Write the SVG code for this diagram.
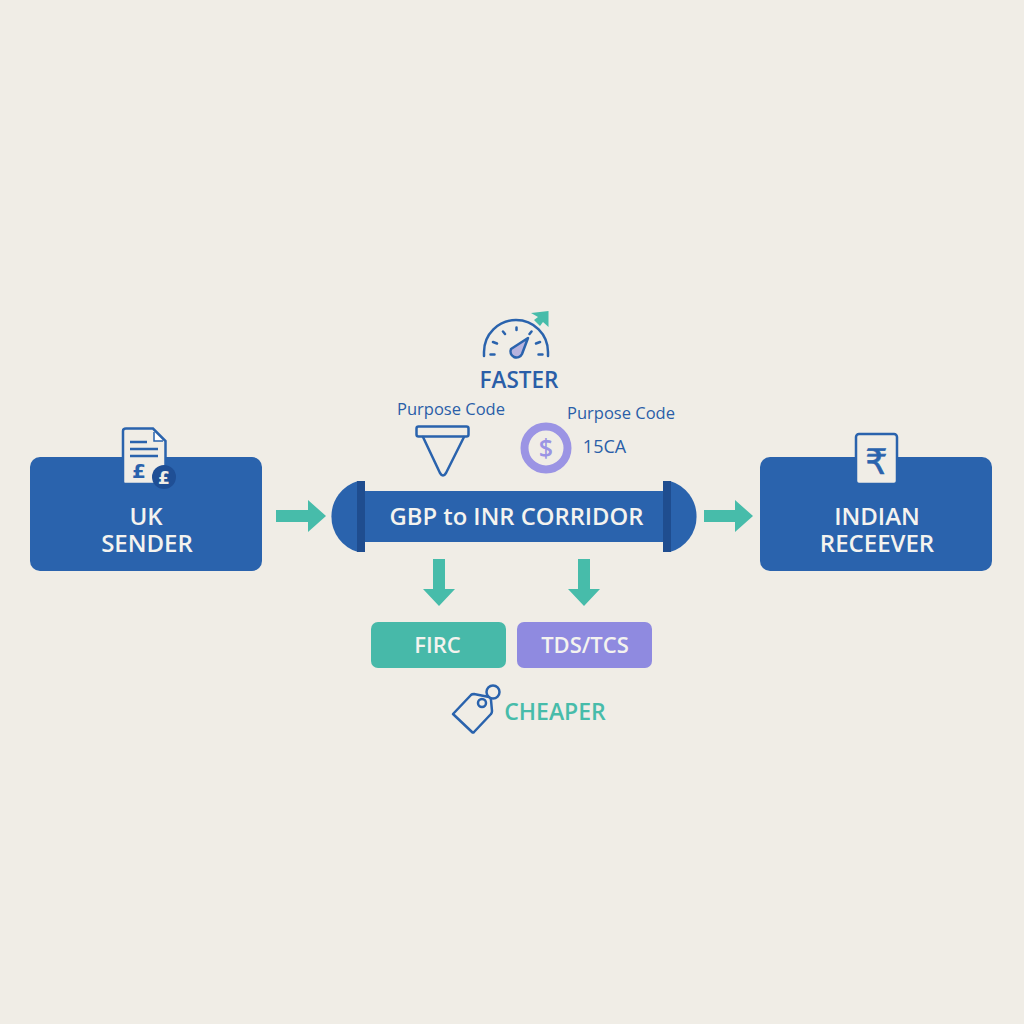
<svg xmlns="http://www.w3.org/2000/svg" width="1024" height="1024" viewBox="0 0 1024 1024">
<style>
text{font-family:"Open Sans","Noto Sans","Liberation Sans",sans-serif;text-anchor:middle}
.box{fill:#2a63ad}
.w{fill:#f4f3ef;font-weight:600;font-size:24px}
.w2{fill:#f4f3ef;font-weight:600;font-size:22px}
.b{fill:#2a5ea8;font-size:16.500px}
.ln{fill:none;stroke:#2a63ad;stroke-width:2.500;stroke-linecap:round;stroke-linejoin:round}
.arr{fill:#47bcaa}
.sym{font-family:"DejaVu Sans",sans-serif;font-weight:700}
</style>
<rect width="1024" height="1024" fill="#f0ede6"/>
<g id="connectors">
<path class="arr" d="M276 510H308V500L326 516L308 532V522H276Z"/>
<path class="arr" d="M704 510H735V500L753 516L735 532V522H704Z"/>
<path class="arr" d="M433 559H445V589H455L439 606L423 589H433Z"/>
<path class="arr" d="M578 559H590V589H600L584 606L568 589H578Z"/>
</g>
<g id="uk-sender">
<rect class="box" x="30" y="457" width="232" height="114" rx="10"/>
<path d="M126 428.500H153L165.500 441V484H125Q123 484 123 482V431Q123 428.500 126 428.500Z" fill="#f0ede6" stroke="#2a63ad" stroke-width="2.500"/>
<path d="M154 432V441H163" fill="#fff" stroke="#2a63ad" stroke-width="1.500"/>
<path d="M130 442H147M130 449H158M130 456H158" fill="none" stroke="#2a63ad" stroke-width="2.500"/>
<text class="sym" x="139" y="478" font-size="20" fill="#2a63ad">£</text>
<circle cx="164" cy="477" r="12" fill="#1f4f95"/>
<text class="sym" x="164" y="483.500" font-size="17" fill="#f0ede6">£</text>
<text class="w"><tspan x="146" y="525">UK</tspan><tspan x="147" y="552">SENDER</tspan></text>
</g>
<g id="corridor">
<rect class="box" x="362" y="491" width="306" height="51"/>
<path class="box" d="M358 481A37 37 0 0 0 358 552Z"/>
<path class="box" d="M670 481A37 37 0 0 1 670 552Z"/>
<rect x="357" y="481" width="8" height="71" fill="#1f4d8f"/>
<rect x="663" y="481" width="8" height="71" fill="#1f4d8f"/>
<text class="w2" x="516.500" y="525" style="font-size:23.800px">GBP to INR CORRIDOR</text>
</g>
<g id="faster">
<path class="ln" d="M484 356V352A32 32 0 0 1 548 352V356"/>
<path class="ln" d="M490.500 354.500H494.500M493 342L497 343.500M503 331.500L505 334M516.500 327.500V330M529.500 334L531.500 331.500M536 343.500L540 342M538.500 354.500H542.500"/>
<path d="M528 338L522 354A6 6 0 1 1 511 349Z" fill="#b7b3de" stroke="#2a63ad" stroke-width="2.500" stroke-linejoin="round"/>
<path class="arr" d="M548.500 311V327L543 322L540 326L534 320L538 317L531 313Z"/>
<text x="519" y="387.500" font-size="22.500" font-weight="600" fill="#2a5ea8">FASTER</text>
</g>
<g id="purpose-code-funnel">
<text class="b" x="451" y="415">Purpose Code</text>
<rect class="ln" x="416.500" y="426.500" width="52" height="10" rx="2"/>
<path class="ln" d="M423 437L440 473Q443 478 446 473L464 437"/>
</g>
<g id="purpose-code-15ca">
<text class="b" x="621" y="419">Purpose Code</text>
<circle cx="546" cy="448" r="21.500" fill="none" stroke="#9b94e4" stroke-width="8"/>
<text x="546" y="457" font-size="25" font-weight="600" fill="#9b94e4">$</text>
<text class="b" x="604.500" y="453" style="font-size:18px">15CA</text>
</g>
<g id="indian-receiver">
<rect class="box" x="760" y="457" width="232" height="114" rx="10"/>
<rect x="856" y="434" width="41" height="50" rx="3" fill="#f0ede6" stroke="#2a63ad" stroke-width="2.500"/>
<text x="876.500" y="474" font-size="35" stroke="#2a63ad" stroke-width="0.600" style="font-family:'DejaVu Sans',sans-serif;fill:#2a63ad">₹</text>
<text class="w"><tspan x="877" y="525">INDIAN</tspan><tspan x="877" y="552">RECEEVER</tspan></text>
</g>
<g id="firc">
<rect x="371" y="622" width="135" height="46" rx="7" fill="#47b9a9"/>
<text class="w2" x="437.500" y="652.500">FIRC</text>
</g>
<g id="tds-tcs">
<rect x="517" y="622" width="135" height="46" rx="7" fill="#8f8ae0"/>
<text class="w2" x="585" y="652.500">TDS/TCS</text>
</g>
<g id="cheaper">
<path class="ln" d="M453 714L471 695Q472 694 474 694L489 697Q491 698 491 700L492 711Q492 713 491 714L474 732Q473 733 472 732Z"/>
<circle class="ln" cx="482" cy="703" r="4"/>
<circle class="ln" cx="493" cy="692" r="6.500"/>
<text x="555" y="720" font-size="23" font-weight="600" fill="#47bcaa">CHEAPER</text>
</g>
</svg>
